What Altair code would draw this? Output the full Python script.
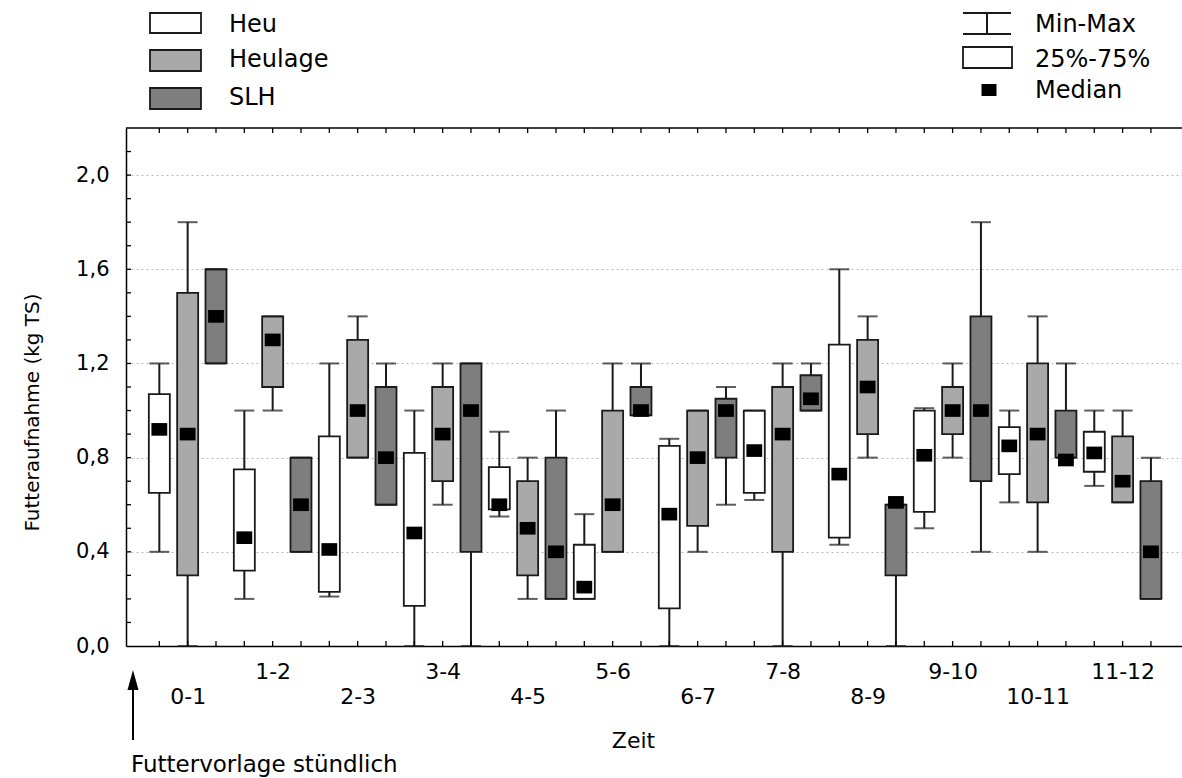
import altair as alt
import pandas as pd

# Feed intake per hour after feeding, three feed types
groups = ["0-1", "1-2", "2-3", "3-4", "4-5", "5-6",
          "6-7", "7-8", "8-9", "9-10", "10-11", "11-12"]
feeds = ["Heu", "Heulage", "SLH"]

heu_min = [0.40, 0.20, 0.21, 0.00, 0.55, 0.20, 0.00, 0.62, 0.43, 0.50, 0.61, 0.68]
heu_q1 = [0.65, 0.32, 0.23, 0.17, 0.58, 0.20, 0.16, 0.65, 0.46, 0.57, 0.73, 0.74]
heu_med = [0.92, 0.46, 0.41, 0.48, 0.60, 0.25, 0.56, 0.83, 0.73, 0.81, 0.85, 0.82]
heu_q3 = [1.07, 0.75, 0.89, 0.82, 0.76, 0.43, 0.85, 1.00, 1.28, 1.00, 0.93, 0.91]
heu_max = [1.20, 1.00, 1.20, 1.00, 0.91, 0.56, 0.88, 1.00, 1.60, 1.01, 1.00, 1.00]

heulage_min = [0.00, 1.00, 0.80, 0.60, 0.20, 0.40, 0.40, 0.00, 0.80, 0.80, 0.40, 0.61]
heulage_q1 = [0.30, 1.10, 0.80, 0.70, 0.30, 0.40, 0.51, 0.40, 0.90, 0.90, 0.61, 0.61]
heulage_med = [0.90, 1.30, 1.00, 0.90, 0.50, 0.60, 0.80, 0.90, 1.10, 1.00, 0.90, 0.70]
heulage_q3 = [1.50, 1.40, 1.30, 1.10, 0.70, 1.00, 1.00, 1.10, 1.30, 1.10, 1.20, 0.89]
heulage_max = [1.80, 1.40, 1.40, 1.20, 0.80, 1.20, 1.00, 1.20, 1.40, 1.20, 1.40, 1.00]

slh_min = [1.20, 0.40, 0.60, 0.00, 0.20, 0.98, 0.60, 1.00, 0.00, 0.40, 0.80, 0.20]
slh_q1 = [1.20, 0.40, 0.60, 0.40, 0.20, 0.98, 0.80, 1.00, 0.30, 0.70, 0.80, 0.20]
slh_med = [1.40, 0.60, 0.80, 1.00, 0.40, 1.00, 1.00, 1.05, 0.61, 1.00, 0.79, 0.40]
slh_q3 = [1.60, 0.80, 1.10, 1.20, 0.80, 1.10, 1.05, 1.15, 0.60, 1.40, 1.00, 0.70]
slh_max = [1.60, 0.80, 1.20, 1.20, 1.00, 1.20, 1.10, 1.20, 0.60, 1.80, 1.20, 0.80]

fill_colors = ["#ffffff", "#a9a9a9", "#7e7e7e"]
y_labels_at = [0.0, 0.4, 0.8, 1.2, 1.6, 2.0]
minor_ticks = [round(i * 0.1, 1) for i in range(1, 22)]

series = [
    (heu_min, heu_q1, heu_med, heu_q3, heu_max),
    (heulage_min, heulage_q1, heulage_med, heulage_q3, heulage_max),
    (slh_min, slh_q1, slh_med, slh_q3, slh_max),
]
rows = []
for f, (mins, q1s, meds, q3s, maxs) in enumerate(series):
    for g, zeit in enumerate(groups):
        rows.append(dict(pos=3 * g + f + 1, feed=feeds[f], zeit=zeit,
                         lo=mins[g], q1=q1s[g], med=meds[g], q3=q3s[g], hi=maxs[g]))
df = pd.DataFrame(rows)

FONT = "DejaVu Sans"
W, H = 1056, 518
xs = alt.Scale(domain=[0, 36.92], nice=False, zero=False)
ys = alt.Scale(domain=[0, 2.2], nice=False, zero=False)
positions = list(range(1, 37))
label_arr = "[" + ",".join(f"'{g}'" for g in groups) + "]"

x_main = alt.Axis(
    orient="bottom", values=positions, ticks=False, tickSize=0,
    labelExpr=f"datum.value % 3 == 2 ? {label_arr}[floor(datum.value / 3)] : ''",
    labelPadding={"condition": {"test": "datum.value % 6 == 2", "value": 57}, "value": 32},
    labelBaseline="alphabetic", labelFontSize=22, labelOverlap=False, labelBound=False,
    labelFlush=False, domainColor="black", domainWidth=1.5, grid=False,
    title="Zeit", titleFontSize=22, titleX=507, titleY=101, titleBaseline="alphabetic",
    titleAlign="center", titleAnchor="start",
)
y_main = alt.Axis(
    orient="left", values=y_labels_at, ticks=False, tickSize=0,
    labelExpr="replace(format(datum.value, '.1f'), '.', ',')",
    labelFontSize=21, labelPadding=17, domainColor="black", domainWidth=1.5,
    grid=True, gridColor="#b8b8b8", gridDash=[2, 3], gridWidth=1,
    title="Futteraufnahme (kg TS)", titleFontSize=20, titleAngle=270,
    titleX=-88, titleY=284, titleBaseline="alphabetic", titleAlign="center",
)


def X(field):
    return alt.X(field, type="quantitative", scale=xs, axis=x_main)


def Y(field):
    return alt.Y(field, type="quantitative", scale=ys, axis=y_main)


base = alt.Chart(df)
INK = "#1a1a1a"

whiskers = base.mark_rule(color=INK, strokeWidth=2).encode(
    x=X("pos"), y=Y("lo"), y2="hi:Q")
boxes = base.mark_bar(size=21, stroke=INK, strokeWidth=1.8).encode(
    x=X("pos"), y=Y("q1"), y2="q3:Q",
    fill=alt.Fill("feed:N", scale=alt.Scale(domain=feeds, range=fill_colors), legend=None),
)
caps_hi = base.mark_tick(orient="horizontal", size=20, thickness=2, color=INK).encode(
    x=X("pos"), y=Y("hi"))
caps_lo = base.mark_tick(orient="horizontal", size=20, thickness=2, color=INK).encode(
    x=X("pos"), y=Y("lo"))
MEDIAN_SHAPE = "M-1,-0.8L1,-0.8L1,0.8L-1,0.8Z"
medians = base.mark_point(shape=MEDIAN_SHAPE, size=250, filled=True, color="black",
                          opacity=1, strokeWidth=0).encode(x=X("pos"), y=Y("med"))

# top frame line and short inward ticks along the frame
pos_df = pd.DataFrame({"pos": positions})
minor_df = pd.DataFrame({"lo": minor_ticks})
tick_style = dict(color="black", strokeWidth=1.3)
one = pd.DataFrame({"k": [0]})
frame_ticks = [
    alt.Chart(one).mark_rule(color="black", strokeWidth=1.5).encode(
        x=alt.value(0), x2=alt.value(W), y=alt.value(0)),
    alt.Chart(pos_df).mark_rule(**tick_style).encode(
        x=X("pos"), y=alt.value(0), y2=alt.value(5)),
    alt.Chart(pos_df).mark_rule(**tick_style).encode(
        x=X("pos"), y=alt.value(H - 5), y2=alt.value(H)),
    alt.Chart(minor_df).mark_rule(**tick_style).encode(
        y=Y("lo"), x=alt.value(0), x2=alt.value(5)),
]


def label(text, x, y, size=24, baseline="middle"):
    return alt.Chart(one).mark_text(text=text, align="left", baseline=baseline,
                                    font=FONT, fontSize=size, color="black").encode(
        x=alt.value(x), y=alt.value(y))


legend_layers = []
# feed legend (left)
for name, color, (y0, y1, yt) in zip(feeds, fill_colors,
                                     [(-115, -95, -103), (-78, -57, -68), (-40, -19, -30)]):
    legend_layers.append(
        alt.Chart(one).mark_rect(fill=color, stroke=INK, strokeWidth=1.8).encode(
            x=alt.value(24), x2=alt.value(75), y=alt.value(y0), y2=alt.value(y1)))
    legend_layers.append(label(name, 103, yt))

# statistics legend (right)
for yy in (-115, -94):
    legend_layers.append(alt.Chart(one).mark_rule(color=INK, strokeWidth=2).encode(
        x=alt.value(837), x2=alt.value(885), y=alt.value(yy)))
legend_layers.append(alt.Chart(one).mark_rule(color=INK, strokeWidth=2).encode(
    x=alt.value(861), y=alt.value(-115), y2=alt.value(-94)))
legend_layers.append(label("Min-Max", 909, -103))
legend_layers.append(alt.Chart(one).mark_rect(fill="white", stroke=INK, strokeWidth=1.8).encode(
    x=alt.value(837), x2=alt.value(886), y=alt.value(-81), y2=alt.value(-60)))
legend_layers.append(label("25%-75%", 909, -68))
legend_layers.append(alt.Chart(one).mark_point(shape=MEDIAN_SHAPE, size=225, filled=True,
                                               color="black", opacity=1, strokeWidth=0).encode(
    x=alt.value(863), y=alt.value(-38)))
legend_layers.append(label("Median", 909, -37))

# feeding marker below the time axis
arrow = [
    alt.Chart(one).mark_rule(color="black", strokeWidth=2).encode(
        x=alt.value(7), y=alt.value(556), y2=alt.value(612)),
    alt.Chart(one).mark_point(shape="M0,-1L0.55,1L-0.55,1Z", size=400, filled=True,
                              color="black", opacity=1, strokeWidth=0).encode(
        x=alt.value(7), y=alt.value(552)),
    label("Futtervorlage stündlich", 5, 644, size=23, baseline="alphabetic"),
]

chart = alt.layer(
    whiskers, boxes, caps_hi, caps_lo, medians, *frame_ticks, *legend_layers, *arrow
).properties(
    width=W, height=H,
    autosize=alt.AutoSizeParams(type="none"),
    padding={"left": 126, "top": 128, "right": 0, "bottom": 132},
    background="white",
).configure_view(
    strokeWidth=0
).configure_axis(
    labelFont=FONT, titleFont=FONT, labelColor="black", titleColor="black",
    tickColor="black", domainColor="black", titleFontWeight="normal",
)

chart.save("out.html", embed_options={"renderer": "svg", "actions": False})
